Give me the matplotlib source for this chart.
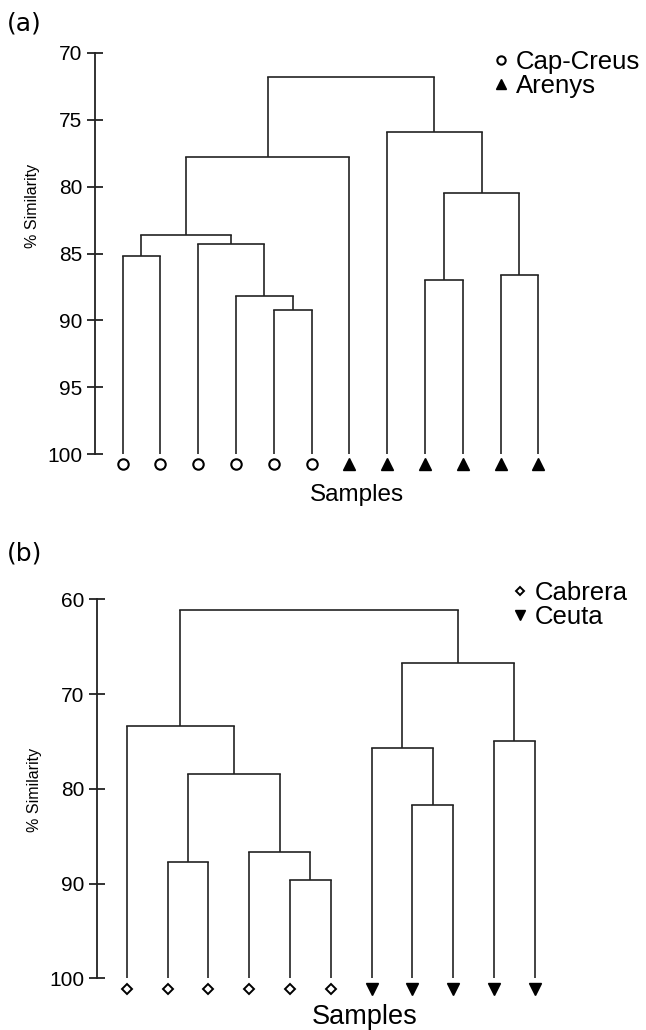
import matplotlib
matplotlib.use('Agg')
import matplotlib.pyplot as plt

plt.rcParams['font.family'] = ['Liberation Sans', 'DejaVu Sans']

# ---- data ----
# panel (a): 12 samples, merges given as (left, right, % similarity);
# indices >= n_a refer to earlier merges (scipy linkage style)
n_a = 12
groups_a = ['Cap-Creus'] * 6 + ['Arenys'] * 6
left_a = [4, 3, 0, 2, 14, 8, 10, 17, 16, 7, 20]
right_a = [5, 12, 1, 13, 15, 9, 11, 18, 6, 19, 21]
height_a = [89.2, 88.2, 85.2, 84.3, 83.6, 87.0, 86.6, 80.5, 77.8, 75.9, 71.8]
yticks_a = [70, 75, 80, 85, 90, 95, 100]

# panel (b): 11 samples
n_b = 11
groups_b = ['Cabrera'] * 6 + ['Ceuta'] * 5
left_b = [4, 1, 3, 7, 12, 6, 9, 0, 16, 18]
right_b = [5, 2, 11, 8, 13, 14, 10, 15, 17, 19]
height_b = [89.6, 87.7, 86.7, 81.7, 78.4, 75.7, 74.9, 73.4, 66.7, 61.1]
yticks_b = [60, 70, 80, 90, 100]

W, H = 646, 1030
fig = plt.figure(figsize=(W / 100, H / 100), dpi=100)


def px_axes(x0, y0, x1, y1):
    # pixel box (top-left origin) -> figure fraction axes
    return fig.add_axes([x0 / W, 1 - y1 / H, (x1 - x0) / W, (y1 - y0) / H])


def draw_dendrogram(ax, n, left, right, height, base):
    xpos = {i: float(i) for i in range(n)}
    ypos = {i: base for i in range(n)}
    for k, (l, r, h) in enumerate(zip(left, right, height)):
        for c in (l, r):
            ax.plot([xpos[c], xpos[c]], [ypos[c], h], color='#222222', lw=1.2,
                    solid_capstyle='butt')
        ax.plot([xpos[l], xpos[r]], [h, h], color='#222222', lw=1.2,
                solid_capstyle='projecting')
        xpos[n + k] = (xpos[l] + xpos[r]) / 2
        ypos[n + k] = h


def style_axis(ax, ticks):
    for s in ('top', 'right', 'bottom'):
        ax.spines[s].set_visible(False)
    ax.spines['left'].set_bounds(ticks[0], ticks[-1])
    ax.spines['left'].set_linewidth(1.3)
    ax.spines['left'].set_color('#222222')
    ax.set_yticks(ticks)
    ax.set_xticks([])
    ax.tick_params(axis='y', direction='inout', length=12, width=1.3,
                   labelsize=15, pad=3, color='#222222')


def legend(ax, x, y):
    leg = ax.legend(loc='upper left', bbox_to_anchor=(x, y), frameon=False,
                    fontsize=18.5, handlelength=0.55, handletextpad=0.3,
                    labelspacing=0.0, borderpad=0, borderaxespad=0,
                    markerscale=0.8)
    return leg


# ---- panel (a) ----
ax = px_axes(95, 40, 640, 475)
draw_dendrogram(ax, n_a, left_a, right_a, height_a, 100)
ax.set_xlim(-0.73, -0.73 + 545 / 37.8)
ax.set_ylim(101.56, 69.03)
style_axis(ax, yticks_a)
xa = list(range(n_a))
ax.plot([x for x, g in zip(xa, groups_a) if g == 'Cap-Creus'], [100.75] * 6,
        ls='none', marker='o', ms=7.5, mfc='white', mec='black', mew=1.5,
        label='Cap-Creus', clip_on=False)
ax.plot([x for x, g in zip(xa, groups_a) if g == 'Arenys'], [100.75] * 6,
        ls='none', marker='^', ms=8.5, color='black', label='Arenys',
        clip_on=False)
legend(ax, (494 - 95) / 545, 1 - 10 / 435)
fig.text(7 / W, 1 - 23 / H, '(a)', fontsize=18, va='center', ha='left',
         family='DejaVu Sans')
fig.text(32 / W, 1 - 206 / H, '% Similarity', rotation=90, fontsize=11.5,
         va='center', ha='center')
fig.text(357 / W, 1 - 495 / H, 'Samples', fontsize=17.5, va='center',
         ha='center')

# ---- panel (b) ----
ax = px_axes(97, 580, 640, 1000)
draw_dendrogram(ax, n_b, left_b, right_b, height_b, 100)
ax.set_xlim(-0.728, -0.728 + 543 / 40.8)
ax.set_ylim(102.27, 57.96)
style_axis(ax, yticks_b)
xb = list(range(n_b))
ax.plot([x for x, g in zip(xb, groups_b) if g == 'Cabrera'], [101.1] * 6,
        ls='none', marker='D', ms=5.5, mfc='white', mec='black', mew=1.4,
        label='Cabrera', clip_on=False)
ax.plot([x for x, g in zip(xb, groups_b) if g == 'Ceuta'], [101.1] * 5,
        ls='none', marker='v', ms=8.5, color='black', label='Ceuta',
        clip_on=False)
legend(ax, (513 - 97) / 543, 1 - 1 / 420)
fig.text(7 / W, 1 - 553 / H, '(b)', fontsize=18, va='center', ha='left',
         family='DejaVu Sans')
fig.text(35 / W, 1 - 790 / H, '% Similarity', rotation=90, fontsize=11.5,
         va='center', ha='center')
fig.text(365 / W, 1 - 1017 / H, 'Samples', fontsize=19.5, va='center',
         ha='center')

fig.savefig('out.png', dpi=100)
